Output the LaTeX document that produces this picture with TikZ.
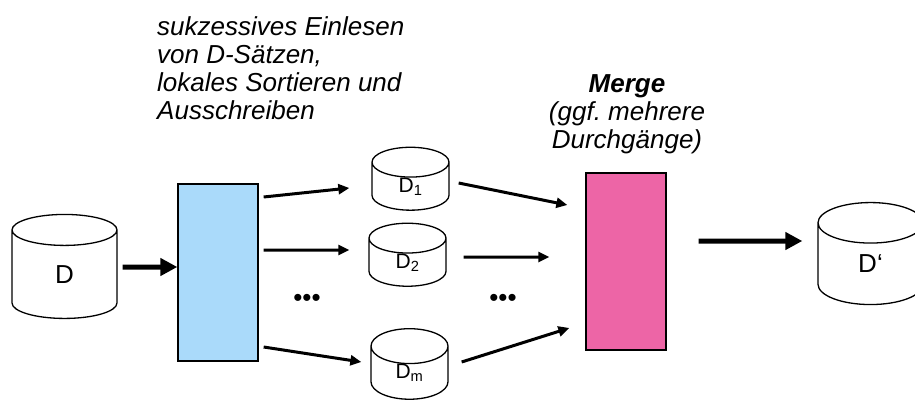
\documentclass[tikz,border=0pt]{standalone}
\usepackage{fontspec}
\setmainfont{Liberation Sans}
\usepackage{tikz}
\usetikzlibrary{arrows.meta, shapes.geometric}

\definecolor{runblue}{RGB}{170,218,250}
\definecolor{mergepink}{RGB}{237,101,166}

\begin{document}
\begin{tikzpicture}[
    x=1pt, y=-1pt,
    disk/.style={
        cylinder, shape border rotate=90, draw, line width=1.3pt,
        aspect=1.25, inner sep=0pt, fill=white,
        font=\fontsize{21}{24}\selectfont
    },
    bigdisk/.style={disk, aspect=1.65, font=\fontsize{26}{28}\selectfont},
    phase/.style={draw, line width=1.3pt, inner sep=0pt, minimum width=80pt, minimum height=177pt},
    arr/.style={-{Triangle[length=11pt, width=10pt]}, line width=3pt},
    bigarr/.style={-{Triangle[length=17pt, width=17pt]}, line width=5pt},
    note/.style={inner sep=0pt, font=\fontsize{26}{28}\selectfont\itshape}
]
\useasboundingbox (0,0) rectangle (915,399);

% Nodes: input file, run phase, runs, merge phase, output file
\node[bigdisk, minimum width=105pt, minimum height=104pt] (D) at (64.5,274.5) {D};
\node[phase, fill=runblue] (run) at (218,272.5) {};
\node[disk, minimum width=77pt, minimum height=61pt] (D1) at (410.5,186.5) {D\textsubscript{1}};
\node[disk, minimum width=77pt, minimum height=63pt] (D2) at (407.5,262.5) {D\textsubscript{2}};
\node[disk, minimum width=77pt, minimum height=56pt] (Dm) at (409.5,373) {D\textsubscript{m}};
\node[phase, fill=mergepink] (merge) at (626,261.5) {};
\node[bigdisk, minimum width=105pt, minimum height=102pt] (Dout) at (870.5,264) {D‘};

\node[font=\fontsize{26}{28}\selectfont] (dotsL) at (307,300) {•••};
\node[font=\fontsize{26}{28}\selectfont] (dotsR) at (503,300) {•••};

% Texts above the two phases
\node[note, anchor=north west, align=left] (runtext) at (157,16)
    {sukzessives Einlesen\\von D-Sätzen,\\lokales Sortieren und\\Ausschreiben};
\node[note, anchor=north, align=center] (mergetext) at (627,74.5)
    {\textbf{Merge}\\(ggf.\ mehrere\\Durchgänge)};

% Reading and writing runs
\draw[bigarr] ([shift={(5,-7.5)}]D.east) -- ([shift={(0,-5.5)}]run.west);
\draw[arr] ([shift={(5,-75.5)}]run.east) -- ([shift={(-22,1.5)}]D1.west);
\draw[arr] ([shift={(5,-22.5)}]run.east) -- ([shift={(-19,-12.5)}]D2.west);
\draw[arr] ([shift={(5,74.5)}]run.east) -- ([shift={(-9,-11)}]Dm.west);

% Merging runs
\draw[arr] ([shift={(9,-3.5)}]D1.east) -- ([shift={(-18,-56.5)}]merge.west);
\draw[arr] ([shift={(17,-5.5)}]D2.east) -- ([shift={(-36,-4.5)}]merge.west);
\draw[arr] ([shift={(13,-11)}]Dm.east) -- ([shift={(-16,66.5)}]merge.west);
\draw[bigarr] ([shift={(32,-20.5)}]merge.east) -- ([shift={(-15,-23)}]Dout.west);

\end{tikzpicture}
\end{document}
